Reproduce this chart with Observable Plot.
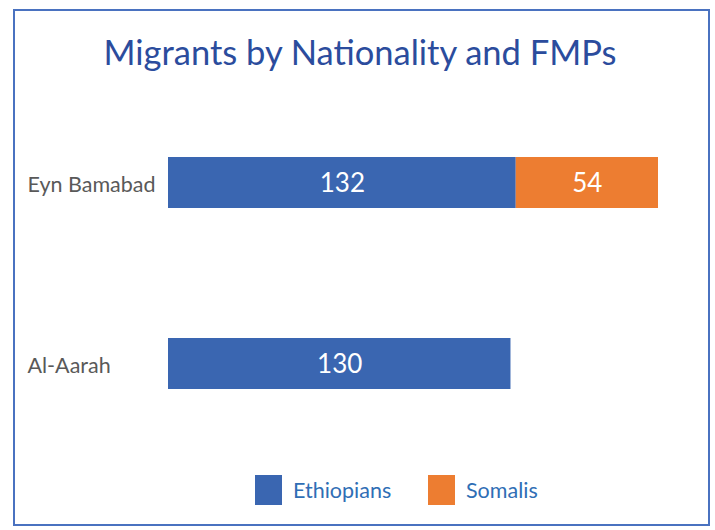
<!DOCTYPE html>
<html>
<head>
<meta charset="utf-8">
<script src="https://cdn.jsdelivr.net/npm/d3@7"></script>
<script src="https://cdn.jsdelivr.net/npm/@observablehq/plot@0.6"></script>
<style>
  html, body { margin: 0; padding: 0; background: #fff; }
  #wrap { position: relative; width: 715px; height: 530px; font-family: Lato, "Open Sans", sans-serif; overflow: hidden; }
  #border { position: absolute; left: 13px; top: 9px; width: 697px; height: 517px; border: 2px solid #4A72C0; box-sizing: border-box; }
  #title { position: absolute; left: 0; top: 31px; width: 720px; text-align: center; font-size: 34.5px; color: #2B4C9D; }
  #chart { position: absolute; left: 0; top: 110px; }
  #legend { position: absolute; top: 475px; left: 0; width: 715px; height: 31px; font-size: 21.5px; color: #2F6EB5; }
  .sw { position: absolute; top: 0; width: 27px; height: 30px; }
  .lt { position: absolute; top: 2px; }
</style>
</head>
<body>
<div id="wrap">
  <div id="border"></div>
  <div id="title">Migrants by Nationality and FMPs</div>
  <div id="chart"></div>
  <div id="legend"></div>
</div>
<script>
const sites = ["Eyn Bamabad", "Al-Aarah"];
const nationalities = ["Ethiopians", "Somalis"];
const ethiopians = [132, 130];
const somalis = [54, 0];
const colors = ["#3A66B1", "#ED7D31"];

const data = [];
sites.forEach((s, i) => {
  data.push({site: s, nat: "Ethiopians", value: ethiopians[i]});
  data.push({site: s, nat: "Somalis", value: somalis[i]});
});
const shown = data.filter(d => d.value > 0);

const plot = Plot.plot({
  width: 715,
  height: 330,
  marginLeft: 168,
  marginRight: 57,
  marginTop: 0,
  marginBottom: 4,
  x: {domain: [0, 186], axis: null},
  y: {domain: sites, axis: null, paddingInner: 0.72, paddingOuter: 0.26},
  color: {domain: nationalities, range: colors},
  style: {fontFamily: "Lato, 'Open Sans', sans-serif", background: "transparent"},
  marks: [
    Plot.barX(shown, Plot.stackX({x: "value", y: "site", fill: "nat", order: nationalities})),
    Plot.text(shown, Plot.stackX({x: "value", y: "site", z: "nat", text: d => String(d.value), order: nationalities, fill: "white", fontSize: 26, dy: 1})),
    Plot.text(sites, {y: d => d, text: d => d, frameAnchor: "left", dx: -141, dy: 2, textAnchor: "start", fontSize: 21.5, fill: "#595959"})
  ]
});
document.getElementById("chart").appendChild(plot);

const legend = document.getElementById("legend");
const legendPos = [[255, 293], [428, 466]];
nationalities.forEach((n, i) => {
  const sw = document.createElement("div");
  sw.className = "sw";
  sw.style.left = legendPos[i][0] + "px";
  sw.style.background = colors[i];
  legend.appendChild(sw);
  const t = document.createElement("div");
  t.className = "lt";
  t.style.left = legendPos[i][1] + "px";
  t.textContent = n;
  legend.appendChild(t);
});
</script>
</body>
</html>
